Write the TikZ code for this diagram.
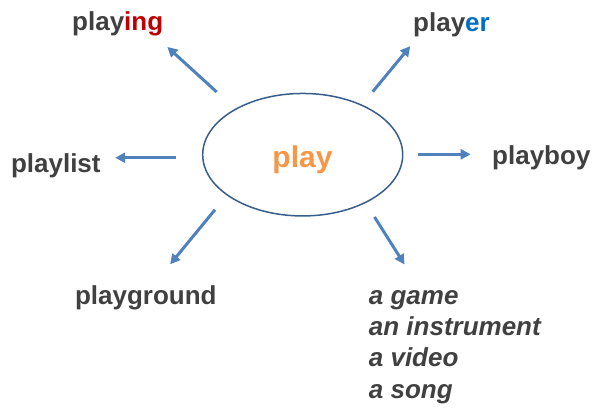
\documentclass[tikz,border=0pt]{standalone}
\usepackage{fontspec}
\setmainfont{Liberation Sans}
\usetikzlibrary{arrows.meta,shapes.geometric}
\definecolor{wordgray}{HTML}{404040}
\definecolor{ingred}{HTML}{C00000}
\definecolor{erblue}{HTML}{0070C0}
\definecolor{arrblue}{HTML}{4F81BD}
\definecolor{ringblue}{HTML}{385D8A}
\definecolor{playorange}{HTML}{F79646}
\begin{document}
\begin{tikzpicture}[x=1pt,y=-1pt,>={Triangle[length=10pt,width=10pt]},
	word/.style={inner sep=0pt,anchor=base west,text=wordgray,font=\fontsize{26}{31.2}\selectfont\bfseries},
	arr/.style={->,draw=arrblue,line width=3pt}]
				\useasboundingbox (0,0) rectangle (598,408);
				\node[ellipse,draw=ringblue,line width=1.5pt,minimum width=200pt,minimum height=122.5pt,inner sep=0pt] (ring) at (302.7,154.7) {};
				\node[inner sep=0pt,anchor=base,text=playorange,font=\fontsize{30}{36}\selectfont\bfseries] (play) at (302.5,167) {play};
				\node[word] (playing) at (72,30.7) {play\textcolor{ingred}{ing}};
				\node[word] (player) at (413,31.7) {play\textcolor{erblue}{er}};
				\node[word] (playlist) at (10.8,172.5) {playlist};
				\node[word] (playboy) at (492,164.5) {playboy};
				\node[word] (playground) at (74.8,304.3) {playground};
				\node[word,align=left,font=\fontsize{26}{31.2}\selectfont\bfseries\itshape] (uses) at (368.7,398) {a game\\an instrument\\a video\\a song};
				\coordinate (tIng) at (216.7,92);
				\coordinate (tEr) at (372.7,91.7);
				\coordinate (tList) at (176,157.7);
				\coordinate (tBoy) at (418,154.3);
				\coordinate (tGround) at (215,209.7);
				\coordinate (tUses) at (374.5,217);
				\draw[arr,shorten >=15.6pt] (tIng)--(playing.-18);
				\draw[arr,shorten >=11.5pt] (tEr)--(player.200);
				\draw[arr,shorten >=14.4pt] (tList)--(tList-|playlist.east);
				\draw[arr,shorten >=21.3pt] (tBoy)--(tBoy-|playboy.west);
				\draw[arr,shorten >=27.1pt] (tGround)--(playground.60);
				\draw[arr,shorten >=30.4pt] (tUses)--(uses.121.5);
			\end{tikzpicture}
\end{document}
